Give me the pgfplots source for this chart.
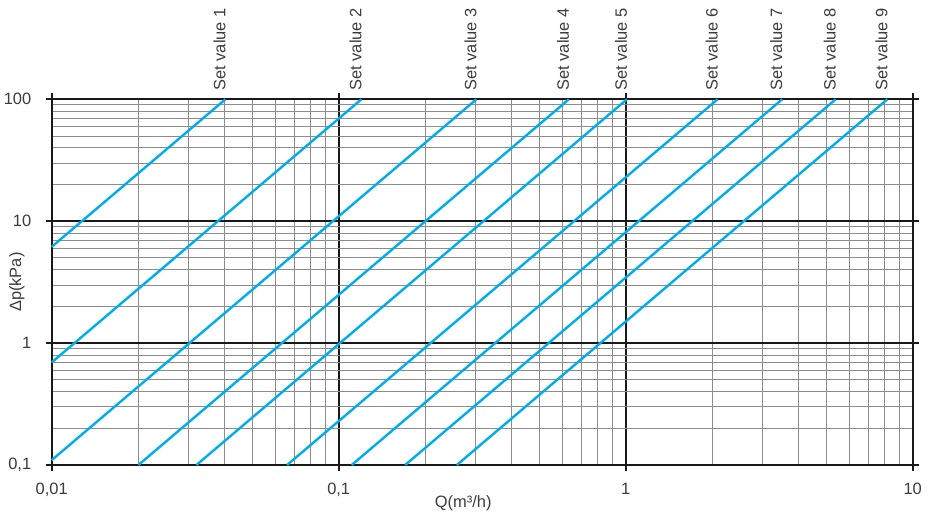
\documentclass[border=0pt]{standalone}
\usepackage{fontspec}
\setmainfont{Liberation Sans}
\usepackage{pgfplots}
\pgfplotsset{compat=1.18}
\definecolor{valveblue}{RGB}{0,172,236}
\definecolor{txt}{RGB}{60,60,60}
\newcommand{\chartfont}{\fontsize{16.5}{20}\selectfont}

\begin{document}
\begin{tikzpicture}
\begin{axis}[
    scale only axis,
    width=861bp, height=365.7bp,
    xmode=log, ymode=log,
    xmin=0.01, xmax=10, ymin=0.1, ymax=100,
    xtick={0.01,0.1,1,10}, xticklabels={{0,01},{0,1},1,10},
    ytick={0.1,1,10,100}, yticklabels={{0,1},1,10,100},
    grid=both,
    major grid style={black!90, line width=1.8bp},
    minor grid style={black!45, line width=0.8bp},
    axis line style={black!90, line width=2.2bp},
    tick align=outside,
    major tick length=6bp, minor tick length=0pt,
    tick style={black!90, line width=1.8bp},
    ticklabel style={font=\chartfont, text=txt},
    xticklabel style={yshift=-9bp},
    yticklabel style={xshift=-11bp},
    xlabel={Q(m³/h)}, ylabel={Δp(kPa)},
    label style={font=\chartfont, text=txt},
    xlabel style={at={(axis description cs:0.478,-0.1039)}, anchor=center},
    ylabel style={at={(axis description cs:-0.0403,0.5)}, anchor=center},
    clip=false,
    valve/.style={valveblue, line width=2.4bp, solid, no markers},
]
\addplot[valve] coordinates {(0.01,6.16) (0.0403,100)};
\addplot[valve] coordinates {(0.01,0.694) (0.120,100)};
\addplot[valve] coordinates {(0.01,0.1096) (0.302,100)};
\addplot[valve] coordinates {(0.02005,0.1) (0.634,100)};
\addplot[valve] coordinates {(0.03194,0.1) (1.01,100)};
\addplot[valve] coordinates {(0.06609,0.1) (2.09,100)};
\addplot[valve] coordinates {(0.11100,0.1) (3.51,100)};
\addplot[valve] coordinates {(0.17045,0.1) (5.39,100)};
\addplot[valve] coordinates {(0.25804,0.1) (8.16,100)};

\tikzset{setlbl/.style={rotate=90, anchor=base west, inner sep=0pt, font=\chartfont, text=txt}}
\node[setlbl] at ([yshift=8.6bp]axis cs:0.0403,100) {Set value 1};
\node[setlbl] at ([yshift=8.6bp]axis cs:0.120,100) {Set value 2};
\node[setlbl] at ([yshift=8.6bp]axis cs:0.302,100) {Set value 3};
\node[setlbl] at ([yshift=8.6bp]axis cs:0.634,100) {Set value 4};
\node[setlbl] at ([yshift=8.6bp]axis cs:1.01,100) {Set value 5};
\node[setlbl] at ([yshift=8.6bp]axis cs:2.09,100) {Set value 6};
\node[setlbl] at ([yshift=8.6bp]axis cs:3.51,100) {Set value 7};
\node[setlbl] at ([yshift=8.6bp]axis cs:5.39,100) {Set value 8};
\node[setlbl] at ([yshift=8.6bp]axis cs:8.16,100) {Set value 9};

\coordinate (sw) at (rel axis cs:0,0);
\coordinate (ne) at (rel axis cs:1,1);
\end{axis}
\pgfresetboundingbox
\path ([shift={(-51.7bp,-54bp)}]sw) rectangle ([shift={(19.3bp,99.3bp)}]ne);
\end{tikzpicture}
\end{document}
